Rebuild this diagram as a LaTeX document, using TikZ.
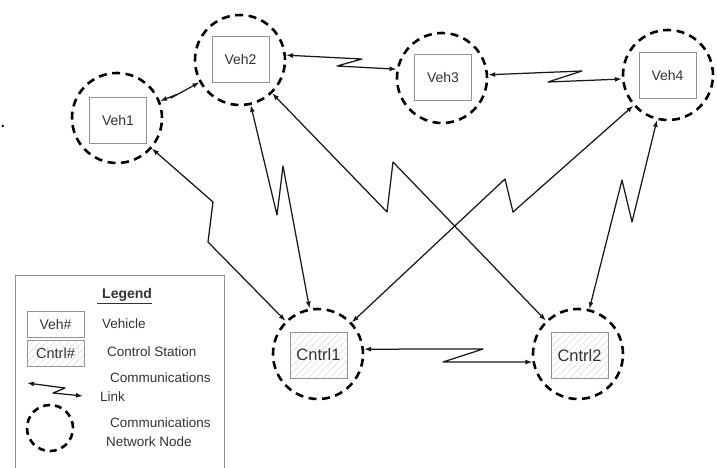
\documentclass[tikz,border=0pt]{standalone}
\usepackage{fontspec}
\setmainfont{Liberation Sans}
\usetikzlibrary{arrows.meta,patterns.meta}
\begin{document}
\begin{tikzpicture}[x=1pt,y=-1pt,
  netnode/.style={circle,draw=black,line width=2.6pt,dash pattern=on 8pt off 5.5pt,minimum size=90pt,inner sep=0pt},
  vehbox/.style={draw=gray!85,line width=0.9pt,minimum width=57pt,minimum height=46pt,inner sep=0pt,text=black!80,font=\fontsize{14}{16}\selectfont},
  ctrlbox/.style={vehbox,pattern={Lines[angle=45,distance=5pt,line width=0.5pt]},pattern color=gray!30,font=\fontsize{16.5}{18}\selectfont},
  link/.style={draw=black!90,line width=1.25pt,line join=round,>={Latex[length=7pt,width=5pt]},<->},
  lgtext/.style={anchor=west,inner sep=0pt,text=black!80,font=\fontsize{13.5}{15}\selectfont},
]
\useasboundingbox (0,0) rectangle (717,467);

% network nodes
\node[netnode] (veh1) at (117,118) {};
\node[netnode] (veh2) at (240,60) {};
\node[netnode] (veh3) at (442,78) {};
\node[netnode] (veh4) at (668,75) {};
\node[netnode] (cntrl1) at (318,354) {};
\node[netnode] (cntrl2) at (578,354) {};

\node[vehbox] (veh1box) at (118,120) {Veh1};
\node[vehbox] (veh2box) at (240.5,59.5) {Veh2};
\node[vehbox] (veh3box) at (443,77.5) {Veh3};
\node[vehbox] (veh4box) at (667.5,75) {Veh4};
\node[ctrlbox] (cntrl1box) at (318.5,355) {Cntrl1};
\node[ctrlbox] (cntrl2box) at (579.5,355.5) {Cntrl2};

% links
\draw[link] (veh1) -- (178,94) -- (171,98) -- (veh2);
\draw[link] (veh2.6) -- (362,59) -- (337,66) -- (veh3.169);
\draw[link] (veh3.4) -- (582,71) -- (548,82) -- (veh4.185);
\draw[link] (cntrl1.6) -- (483,349) -- (443,362) -- (cntrl2.190);
\draw[link] (veh1) -- (213,202) -- (208,242) -- (cntrl1);
\draw[link] (veh2) -- (277,215) -- (283,166) -- (cntrl1);
\draw[link] (veh2) -- (387,212) -- (393,162) -- (cntrl2);
\draw[link] (cntrl1) -- (505,179) -- (513,212) -- (veh4);
\draw[link] (cntrl2) -- (622,180) -- (632,222) -- (veh4);

% stray dot
\node[lgtext,font=\fontsize{20}{22}\selectfont,text=black] (dot) at (0,126) {.};

% legend
\draw[gray!85,line width=0.9pt] (15,470) -- (15,275) -- (224,275) -- (224,470);
\node[lgtext,font=\fontsize{14}{16}\selectfont\bfseries] (lgtitle) at (97,296) {\underline{\hspace{5pt}Legend}};
\node[vehbox,minimum height=26pt,font=\fontsize{14}{16}\selectfont] (lgveh) at (55.5,324) {Veh\#};
\node[ctrlbox,minimum height=26pt,font=\fontsize{14.5}{16}\selectfont] (lgctrl) at (55.5,353) {Cntrl\#};
\node[lgtext] (lgvehtxt) at (102,324) {Vehicle};
\node[lgtext] (lgctrltxt) at (107,352) {Control Station};
\coordinate (lgA) at (27,383);
\coordinate (lgB) at (83,396);
\draw[link] (lgA) -- (65,388) -- (53,393) -- (lgB);
\node[lgtext] (lglink1) at (110,378) {Communications};
\node[lgtext] (lglink2) at (100,397) {Link};
\node[netnode,minimum size=46pt,dash pattern=on 7pt off 5pt] (lgcirc) at (50,428) {};
\node[lgtext] (lgnet1) at (110,423) {Communications};
\node[lgtext] (lgnet2) at (106,442) {Network Node};
\end{tikzpicture}
\end{document}
